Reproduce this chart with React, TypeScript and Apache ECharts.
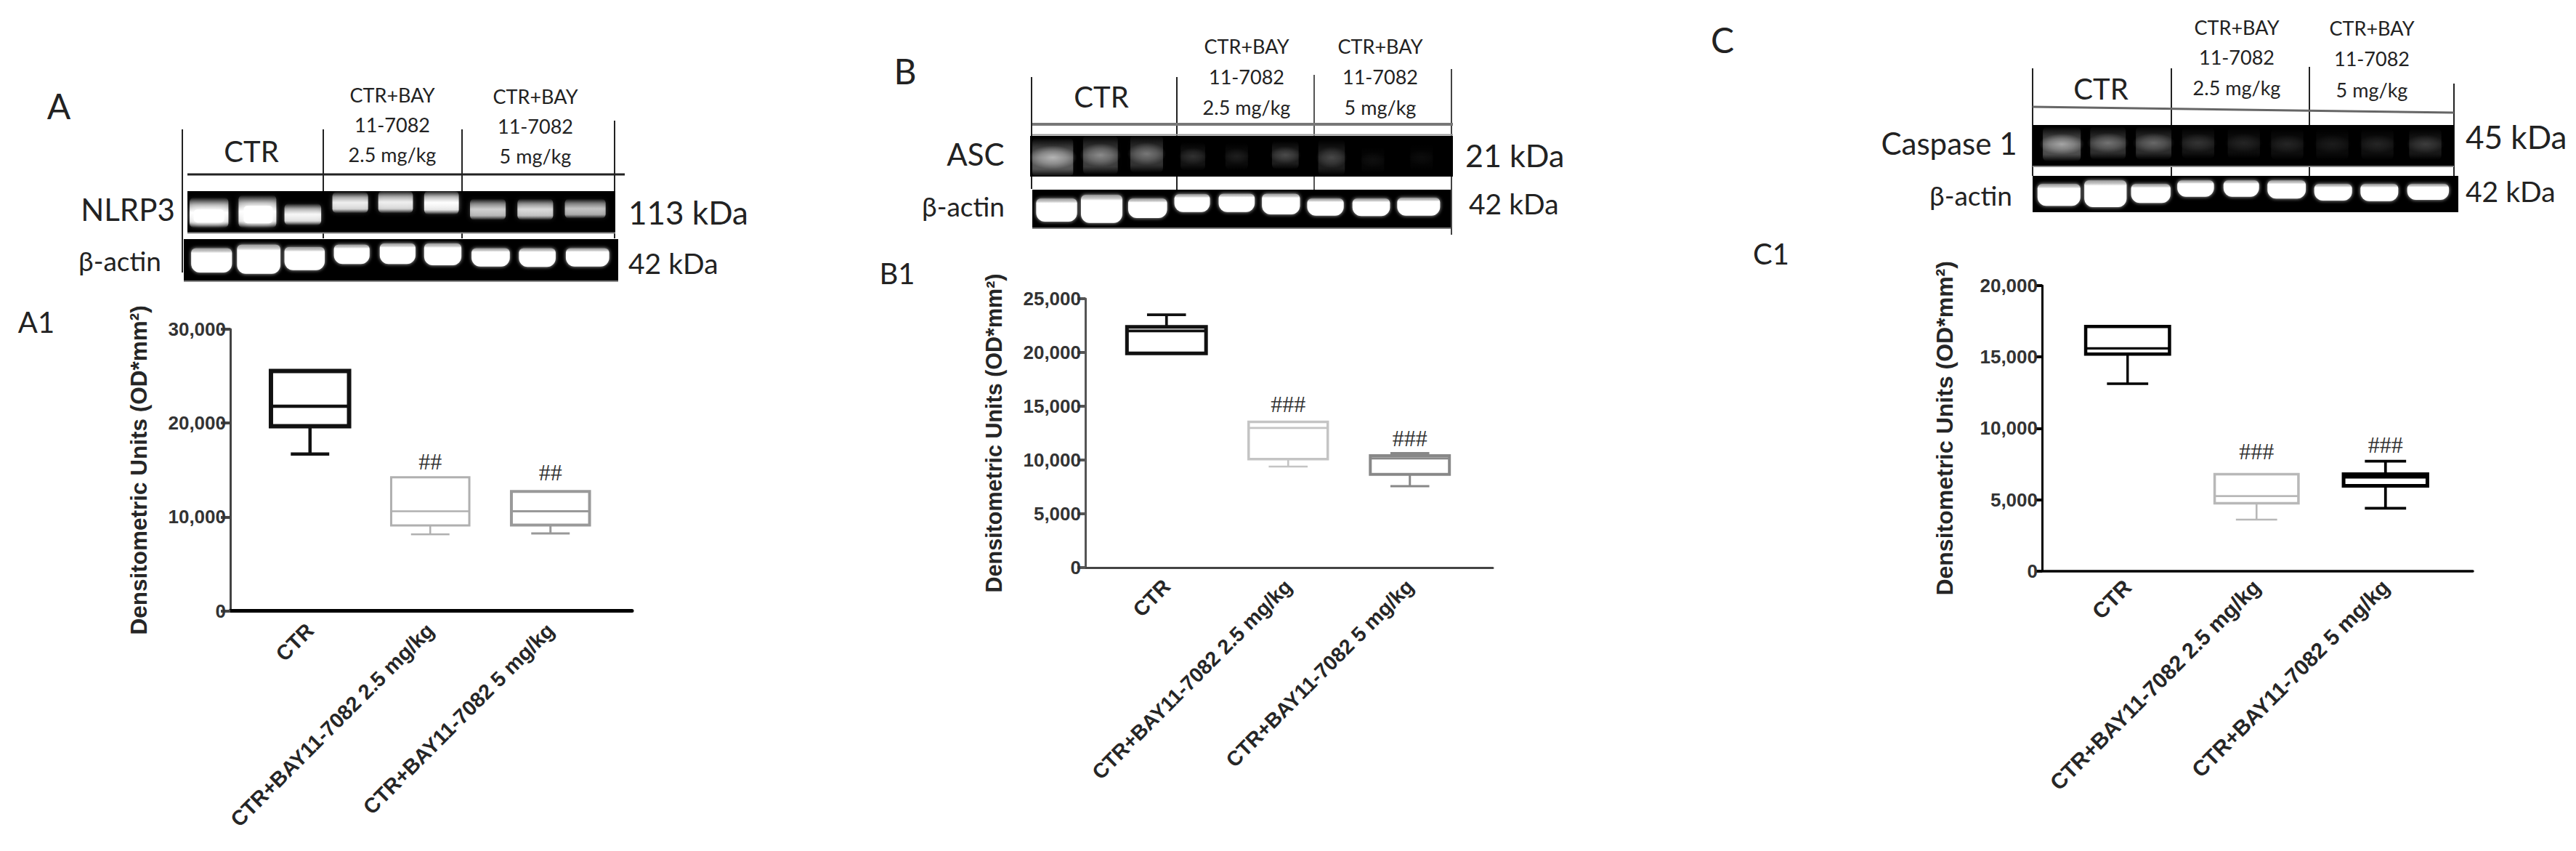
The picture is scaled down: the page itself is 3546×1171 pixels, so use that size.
import React, { useEffect, useRef } from "react";
import * as echarts from "echarts";

const categories = ["CTR", "CTR+BAY11-7082 2.5 mg/kg", "CTR+BAY11-7082 5 mg/kg"];
const yTitle = "Densitometric Units (OD*mm²)";

// Panel A1 values
const a1Low = [16700, 8150, 8260];
const a1Q1 = [19660, 9100, 9150];
const a1Median = [21800, 10620, 10620];
const a1Q3 = [25550, 14230, 12730];
const a1High = [25550, 14230, 12730];
const a1Marks = ["", "##", "##"];
// Panel B1 values
const b1Low = [19920, 9395, 7570];
const b1Q1 = [19920, 10090, 8670];
const b1Median = [22000, 12980, 10155];
const b1Q3 = [22380, 13545, 10400];
const b1High = [23500, 13545, 10650];
const b1Marks = ["", "###", "###"];
// Panel C1 values
const c1Low = [13125, 3600, 4400];
const c1Q1 = [15200, 4745, 5970];
const c1Median = [15600, 5250, 6580];
const c1Q3 = [17135, 6786, 6786];
const c1High = [17135, 6786, 7700];
const c1Marks = ["", "###", "###"];

const panels = [
  { low: a1Low, q1: a1Q1, med: a1Median, q3: a1Q3, high: a1High, marks: a1Marks, max: 30000, step: 10000,
    y0: 840.6, y1: 453, ax: 317, axEnd: 870, inLeft: 344, inW: 496.5, tick: 13, nameGap: 110, margin: 22, catFont: 29, nameFont: 31.5,
    yColor: "#444", yW: 3, xColor: "#000", xW: 5, markGap: [0, 22, 26],
    styles: [["#111", 6], ["#b0b0b0", 3], ["#999", 4]] },
  { low: b1Low, q1: b1Q1, med: b1Median, q3: b1Q3, high: b1High, marks: b1Marks, max: 25000, step: 5000,
    y0: 781, y1: 411, ax: 1494, axEnd: 2055, inLeft: 1522, inW: 502.5, tick: 11, nameGap: 111, margin: 21, catFont: 28.5, nameFont: 30.5,
    yColor: "#555", yW: 3, xColor: "#444", xW: 3, markGap: [0, 25, 24],
    styles: [["#111", 5], ["#c4c4c4", 3.5], ["#888", 4]] },
  { low: c1Low, q1: c1Q1, med: c1Median, q3: c1Q3, high: c1High, marks: c1Marks, max: 20000, step: 5000,
    y0: 785.7, y1: 393, ax: 2811, axEnd: 3404, inLeft: 2840, inW: 532.5, tick: 9, nameGap: 118, margin: 17, catFont: 30, nameFont: 32,
    yColor: "#000", yW: 3, xColor: "#000", xW: 3.5, markGap: [0, 31, 40],
    styles: [["#000", 4.5], ["#b8b8b8", 3.5], ["#000", 5]] },
];

const SANS = "'Liberation Sans', Arial, sans-serif";
const LATO = "Lato, 'Noto Sans', sans-serif";

function buildChartOption() {
  const grid: any[] = [], xAxis: any[] = [], yAxis: any[] = [], series: any[] = [];
  panels.forEach((p, k) => {
    const top = p.y1, height = p.y0 - p.y1;
    const outer = k * 2, inner = k * 2 + 1;
    grid.push({ left: p.ax, width: p.axEnd - p.ax, top, height });
    grid.push({ left: p.inLeft, width: p.inW, top, height });
    xAxis.push({ gridIndex: outer, type: "category", data: [""], axisTick: { show: false }, axisLabel: { show: false },
      axisLine: { show: true, onZero: false, lineStyle: { color: p.xColor, width: p.xW } } });
    xAxis.push({ gridIndex: inner, type: "category", data: categories, axisTick: { show: false },
      axisLine: { show: false },
      axisLabel: { interval: 0, rotate: 45, margin: p.margin, fontFamily: SANS, fontSize: p.catFont, fontWeight: "bold", color: "#262626" } });
    yAxis.push({ gridIndex: outer, type: "value", min: 0, max: p.max, interval: p.step, splitLine: { show: false },
      name: yTitle, nameLocation: "middle", nameGap: p.nameGap, nameRotate: 90,
      nameTextStyle: { fontFamily: SANS, fontSize: p.nameFont, fontWeight: "bold", color: "#262626" },
      axisLine: { show: true, onZero: false, lineStyle: { color: p.yColor, width: p.yW } },
      axisTick: { show: true, length: p.tick, lineStyle: { color: p.yColor, width: 4 } },
      axisLabel: { margin: 6, fontFamily: SANS, fontSize: 26, fontWeight: "bold", color: "#333",
        formatter: (v: number) => v.toLocaleString("en-US") } });
    yAxis.push({ gridIndex: inner, type: "value", min: 0, max: p.max, interval: p.step, show: false, splitLine: { show: false } });
    series.push({
      type: "custom", xAxisIndex: inner, yAxisIndex: inner, clip: false, silent: true,
      encode: { x: 0, y: [1, 2, 3, 4, 5] },
      data: categories.map((_, i) => [i, p.low[i], p.q1[i], p.med[i], p.q3[i], p.high[i]]),
      renderItem: (_params: any, api: any) => {
        const i = api.value(0);
        const band = api.size([1, 0])[0];
        const cx = api.coord([i, 0])[0];
        const Y = (n: number) => api.coord([i, api.value(n)])[1];
        const [color, lw] = p.styles[i] as [string, number];
        const halfBox = band * 0.325, halfCap = band * 0.16;
        const style = { stroke: color, lineWidth: lw, fill: null };
        const thin = { stroke: color, lineWidth: Math.max(2.5, lw * 0.75), fill: null };
        const ln = (x1: number, y1: number, x2: number, y2: number, s: any = thin) =>
          ({ type: "line", shape: { x1, y1, x2, y2 }, style: s });
        const low = Y(1), q1 = Y(2), med = Y(3), q3 = Y(4), high = Y(5);
        const children: any[] = [
          { type: "rect", shape: { x: cx - halfBox, y: q3, width: halfBox * 2, height: q1 - q3 }, style },
          ln(cx - halfBox, med, cx + halfBox, med),
        ];
        if (low > q1 + 1) children.push(ln(cx, q1, cx, low), ln(cx - halfCap, low, cx + halfCap, low));
        if (high < q3 - 1) children.push(ln(cx, q3, cx, high), ln(cx - halfCap, high, cx + halfCap, high));
        const mark = p.marks[i];
        if (mark) children.push({ type: "text", x: cx, y: q3 - p.markGap[i],
          style: { text: mark, fontFamily: "'Liberation Serif', serif", fontSize: 32, fill: "#333", align: "center", verticalAlign: "middle" } });
        return { type: "group", children };
      },
    });
  });
  return { animation: false, backgroundColor: "#fff", grid, xAxis, yAxis, series, graphic: { elements: buildBlots() } };
}

type Map = { ox: number; oy: number; sx: number; sy: number };
const PX = (m: Map, x: number) => m.ox + x / m.sx;
const PY = (m: Map, y: number) => m.oy + y / m.sy;
const rect = (x: number, y: number, w: number, h: number, style: any, r: any = 0) =>
  ({ type: "rect", silent: true, shape: { x, y, width: w, height: h, r }, style });
const line = (x1: number, y1: number, x2: number, y2: number, stroke = "#222", lineWidth = 2) =>
  ({ type: "line", silent: true, shape: { x1, y1, x2, y2 }, style: { stroke, lineWidth } });
const txt = (x: number, y: number, text: string, fontSize: number, align = "center") =>
  ({ type: "text", silent: true, x, y, style: { text, fontSize, fontFamily: LATO, fill: "#222", align, verticalAlign: "middle" } });
const white = (a: number) => `rgba(255,255,255,${a})`;

// soft horizontal band with a bright core, in crop coordinates
function softBand(m: Map, x0: number, x1: number, y0: number, y1: number, peak: number) {
  const X = PX(m, x0), Y = PY(m, y0), W = (x1 - x0) / m.sx, H = (y1 - y0) / m.sy;
  return rect(X, Y, W, H, {
    fill: { type: "linear", x: 0, y: 0, x2: 0, y2: 1, colorStops: [
      { offset: 0, color: white(0) }, { offset: 0.25, color: white(peak * 0.6) },
      { offset: 0.5, color: white(peak) }, { offset: 0.8, color: white(peak * 0.85) }, { offset: 1, color: white(0) }] },
    shadowBlur: 6, shadowColor: white(peak * 0.5),
  }, 6);
}
function glow(m: Map, cx: number, cy: number, w: number, h: number, peak: number) {
  const W = w / m.sx, H = h / m.sy;
  return rect(PX(m, cx) - W / 2, PY(m, cy) - H / 2, W, H, {
    fill: { type: "radial", x: 0.5, y: 0.5, r: 0.5, colorStops: [
      { offset: 0, color: white(peak) }, { offset: 0.55, color: white(peak * 0.55) }, { offset: 1, color: white(0) }] },
  });
}
// a lane in a faint blot: a dim vertical streak with a brighter band in it
function lane(m: Map, b: number[]) {
  const [cx, cy, w, h, peak] = b;
  return [
    softBand(m, cx - w * 0.42, cx + w * 0.42, cy - h * 0.62, cy + h * 0.62, peak * 0.5),
    glow(m, cx, cy, w, h * 0.75, peak * 0.75),
  ];
}
function actin(m: Map, b: number[]) {
  const [x0, x1, y0, y1] = b;
  const W = (x1 - x0) / m.sx, H = (y1 - y0) / m.sy;
  return rect(PX(m, x0), PY(m, y0), W, H, {
    fill: { type: "linear", x: 0, y: 0, x2: 0, y2: 1, colorStops: [
      { offset: 0, color: "#9a9a9a" }, { offset: 0.12, color: "#c8c8c8" }, { offset: 0.2, color: "#fff" }, { offset: 1, color: "#fff" }] },
    shadowBlur: 5, shadowColor: "rgba(255,255,255,.75)",
  }, [6, 6, 12, 12]);
}

function buildBlots() {
  const els: any[] = [];
  // ---- A
  const A = { ox: 0, oy: 80, sx: 1.425, sy: 3 };
  els.push(txt(81, 145, "A", 48));
  els.push(line(251, 178, 251, 375), line(445, 178, 445, 328), line(636, 178, 636, 328), line(846, 166, 846, 328));
  els.push(line(258, 240, 860, 240, "#222", 3));
  els.push(rect(258, 263, 589, 57, { fill: "#000" }), line(258, 320.5, 847, 320.5, "#888", 2));
  els.push(rect(253, 329, 598, 58, { fill: "#000" }), line(253, 387, 851, 387, "#888", 2));
  [[372, 448, 575, 700, 1], [468, 542, 565, 700, 1], [558, 630, 600, 690, 0.95], [652, 722, 552, 640, 0.9], [742, 810, 548, 640, 0.9],
   [832, 900, 548, 645, 1], [922, 992, 580, 668, 0.75], [1015, 1085, 580, 668, 0.8], [1108, 1188, 580, 662, 0.7]]
    .forEach((b) => els.push(softBand(A, b[0], b[1], b[2], b[3], b[4])));
  els.push(rect(PX(A, 380), PY(A, 625), 42, 18, { fill: "#fff", shadowBlur: 10, shadowColor: "#fff" }, 5));
  els.push(rect(PX(A, 478), PY(A, 610), 40, 24, { fill: "#fff", shadowBlur: 10, shadowColor: "#fff" }, 5));
  [[375, 455, 785, 885], [465, 550, 770, 890], [558, 637, 780, 875], [655, 725, 770, 850], [745, 815, 765, 850],
   [832, 905, 765, 855], [925, 1000, 785, 860], [1018, 1090, 785, 862], [1110, 1195, 785, 860]]
    .forEach((b) => els.push(actin(A, b)));
  els.push(txt(346, 208, "CTR", 40));
  ["CTR+BAY", "11-7082", "2.5 mg/kg"].forEach((t, i) => els.push(txt(540, 130 + 41 * i, t, 27)));
  ["CTR+BAY", "11-7082", "5 mg/kg"].forEach((t, i) => els.push(txt(737, 132 + 41 * i, t, 27)));
  els.push(txt(176, 288, "NLRP3", 42), txt(165, 358, "β-actin", 37), txt(865, 292, "113 kDa", 44, "left"), txt(865, 362, "42 kDa", 39, "left"));
  els.push(txt(50, 443, "A1", 40));

  // ---- B
  const B = { ox: 1200, oy: 40, sx: 1.493, sy: 3 };
  els.push(txt(1246, 97, "B", 48));
  els.push(line(1420, 106, 1420, 260), line(1620, 106, 1620, 262), line(1809, 103, 1809, 262, "#555"), line(1998, 95, 1998, 323, "#444"));
  els.push(line(1421, 171, 2000, 171, "#777", 4), line(1421, 185.5, 2000, 185.5, "#999", 2));
  els.push(rect(1418, 187, 582, 56, { fill: "#000" }));
  els.push(rect(1421, 261, 576, 53, { fill: "#000" }), line(1421, 314, 1997, 314, "#777", 2));
  [[372, 530, 100, 130, 0.7], [470, 520, 85, 130, 0.5], [565, 515, 80, 125, 0.42], [660, 525, 60, 95, 0.16], [750, 525, 55, 90, 0.1],
   [850, 520, 65, 95, 0.25], [945, 530, 65, 120, 0.24], [1030, 540, 55, 90, 0.05], [1130, 530, 55, 90, 0.04]]
    .forEach((b) => lane(B, b).forEach((e) => els.push(e)));
  [[338, 422, 700, 795], [430, 515, 685, 800], [527, 607, 700, 780], [622, 695, 682, 755], [713, 787, 680, 755],
   [802, 880, 680, 765], [895, 970, 700, 770], [988, 1065, 700, 772], [1080, 1168, 697, 770]]
    .forEach((b) => els.push(actin(B, b)));
  els.push(txt(1516, 133, "CTR", 40));
  ["CTR+BAY", "11-7082", "2.5 mg/kg"].forEach((t, i) => els.push(txt(1716, 63 + 42 * i, t, 27)));
  ["CTR+BAY", "11-7082", "5 mg/kg"].forEach((t, i) => els.push(txt(1900, 63 + 42 * i, t, 27)));
  els.push(txt(1343, 212, "ASC", 42), txt(1326, 283, "β-actin", 37), txt(2017, 213, "21 kDa", 43, "left"), txt(2022, 280, "42 kDa", 39, "left"));
  els.push(txt(1235, 376, "B1", 40));

  // ---- C
  const C = { ox: 2330, oy: 0, sx: 1.289, sy: 3 };
  els.push(txt(2371, 54, "C", 48));
  els.push(line(2798, 94, 2798, 242), line(2989, 94, 2989, 242), line(3179, 92, 3179, 242), line(3378, 115, 3378, 242));
  els.push(line(2798, 147, 3378, 155, "#666", 3));
  els.push(rect(2798, 172, 580, 56, { fill: "#000" }), line(2798, 229, 3378, 229, "#888", 2));
  els.push(rect(2798, 242, 586, 50, { fill: "#000" }));
  [[655, 595, 80, 115, 0.62], [737, 590, 75, 110, 0.4], [818, 590, 75, 110, 0.36], [897, 590, 68, 105, 0.17], [978, 590, 68, 105, 0.12],
   [1055, 595, 68, 105, 0.12], [1135, 595, 68, 105, 0.09], [1215, 595, 68, 105, 0.12], [1300, 595, 68, 105, 0.2]]
    .forEach((b) => lane(C, b).forEach((e) => els.push(e)));
  [[612, 688, 760, 850], [695, 770, 745, 855], [778, 848, 760, 838], [860, 925, 745, 812], [942, 1005, 745, 812],
   [1020, 1088, 745, 820], [1103, 1170, 760, 828], [1185, 1252, 760, 830], [1268, 1342, 760, 825]]
    .forEach((b) => els.push(actin(C, b)));
  els.push(txt(2892, 122, "CTR", 40));
  ["CTR+BAY", "11-7082", "2.5 mg/kg"].forEach((t, i) => els.push(txt(3079, 37 + 41.5 * i, t, 27)));
  ["CTR+BAY", "11-7082", "5 mg/kg"].forEach((t, i) => els.push(txt(3265, 38 + 42.5 * i, t, 27)));
  els.push(txt(2683, 197, "Caspase 1", 42), txt(2713, 268, "β-actin", 37), txt(3394, 188, "45 kDa", 44, "left"), txt(3394, 263, "42 kDa", 39, "left"));
  els.push(txt(2438, 349, "C1", 40));
  return els;
}

export default function App() {
  const ref = useRef<HTMLDivElement>(null);
  useEffect(() => {
    document.body.style.margin = "0";
    const chart = echarts.init(ref.current!, undefined, { renderer: "svg" });
    chart.setOption(buildChartOption() as any);
    return () => chart.dispose();
  }, []);
  return <div ref={ref} style={{ width: 3546, height: 1171, background: "#fff", overflow: "hidden" }} />;
}
